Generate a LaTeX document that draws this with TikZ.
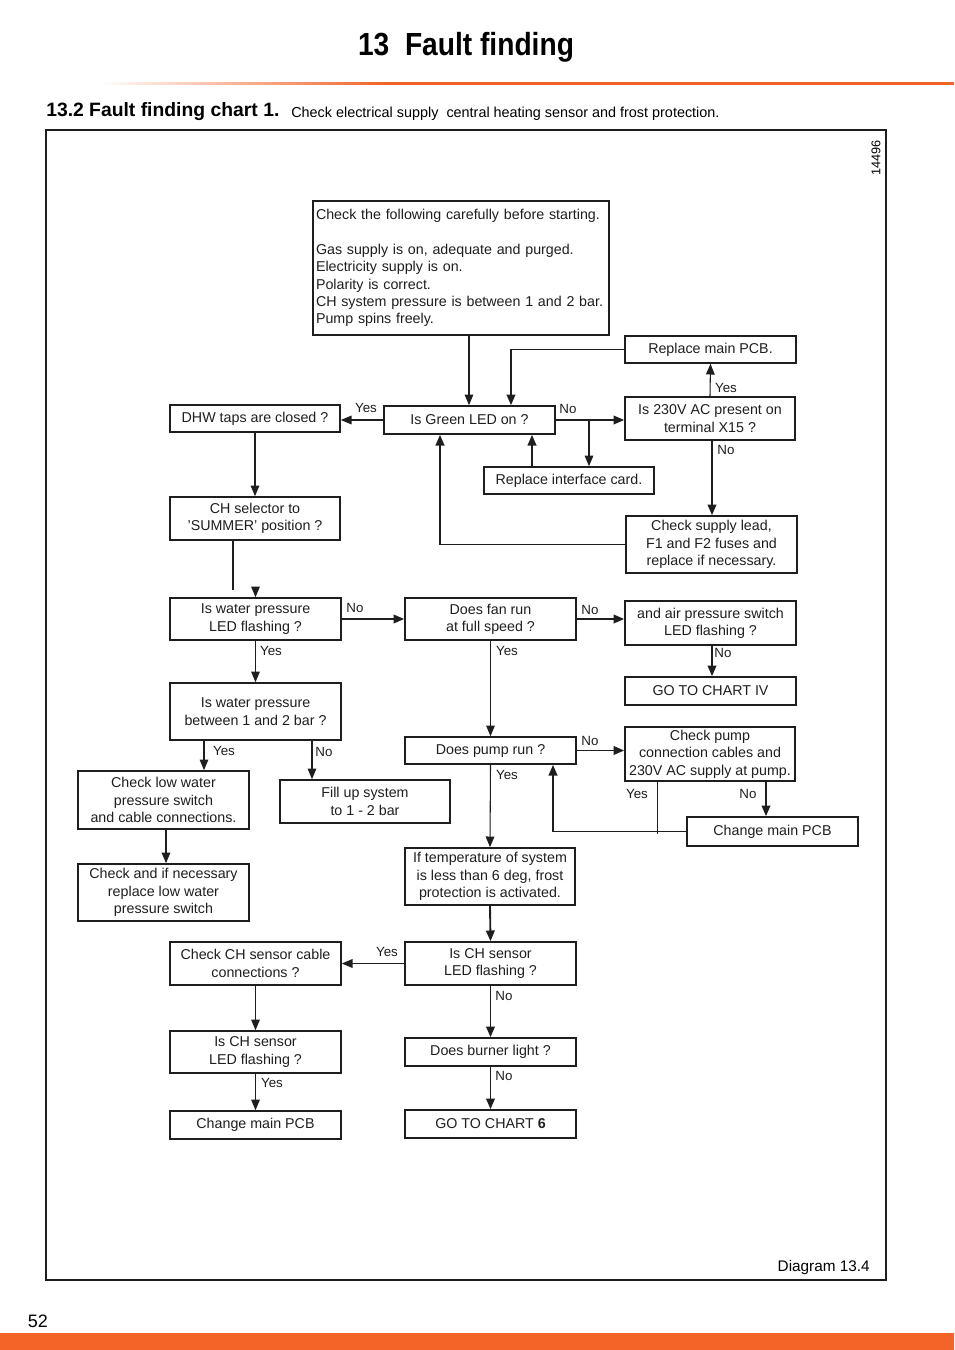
\documentclass[tikz,border=0pt]{standalone}
\usepackage{fontspec}
\setmainfont{Liberation Sans}
\usepackage{tikz}
\usetikzlibrary{arrows.meta,calc}
\definecolor{pageorange}{RGB}{242,100,40}
\definecolor{inkgray}{RGB}{30,30,30}
\tikzset{
  box/.style={draw=inkgray, line width=1.25pt, rectangle, inner sep=1.5pt, align=center,
              minimum width=171*0.75pt, minimum height=#1*0.75pt,
              font=\fontsize{10.7}{13}\selectfont, text=inkgray},
  arr/.style={-{Triangle[length=8pt,width=6.5pt]}, line width=0.8pt, inkgray},
  arrb/.style={-{Triangle[length=8pt,width=6.5pt]}, line width=1.4pt, inkgray},
  lbl/.style={font=\fontsize{10}{12}\selectfont, text=inkgray, inner sep=0pt},
}

\begin{document}
\begin{tikzpicture}[x=0.75pt,y=-0.75pt]
  \useasboundingbox (0,0) rectangle (954,1350);
  % Page header
  \node[inner sep=0pt] (title) at (466,47) {\scalebox{0.88}[1]{\fontsize{24}{28}\selectfont\bfseries 13\ \ Fault finding}};
  \foreach \i in {0,...,39}{
    \pgfmathsetmacro{\p}{min(100,\i*2.8)}
    \fill[pageorange!\p!white] (95+\i*8,81.5) rectangle (104+\i*8,84.5);
  }
  \fill[pageorange] (415,81.5) rectangle (954,84.5);
  \node[anchor=west, inner sep=0pt] (chartttl) at (46,112) {\fontsize{14.5}{17}\selectfont\bfseries 13.2 Fault finding chart 1.};
  \node[anchor=west, inner sep=0pt] (chartsub) at (291,113.5) {\fontsize{10.8}{13}\selectfont Check electrical supply\ \ central heating sensor and frost protection.};
  \draw[line width=0.9pt, inkgray] (46,130) rectangle (886,1280);
  \node[rotate=90, inner sep=0pt] (refno) at (876,158) {\fontsize{9.5}{11}\selectfont 14496};
  \node[anchor=east, inner sep=0pt] (diagno) at (870,1268) {\fontsize{11.5}{14}\selectfont Diagram 13.4};
  \node[inner sep=0pt] (pageno) at (38,1321) {\fontsize{13.5}{16}\selectfont 52};
  \fill[pageorange] (0,1333) rectangle (954,1350);

  % Boxes
  \node[box=134, minimum width=296*0.75pt, inner xsep=2.25pt, align=left, text width=290*0.75pt] (start) at (461,268)
    {Check the following carefully before starting.\\[13pt]
     Gas supply is on, adequate and purged.\\
     Electricity supply is on.\\
     Polarity is correct.\\
     CH system pressure is between 1 and 2 bar.\\
     Pump spins freely.};
  \node[box=27]  (replmain) at (710.5,349.5) {Replace main PCB.};
  \node[box=27, minimum width=170*0.75pt] (dhw) at (255,418.5) {DHW taps are closed ?};
  \node[box=28]  (green) at (469.5,420) {Is Green LED on ?};
  \node[box=43, minimum width=170*0.75pt] (v230) at (710,418.5) {Is 230V AC present on\\terminal X15 ?};
  \node[box=27, minimum width=170*0.75pt] (iface) at (569,480.5) {Replace interface card.};
  \node[box=43, minimum width=170*0.75pt] (selector) at (255,518.5) {CH selector to\\'SUMMER' position ?};
  \node[box=57]  (supply) at (711.5,544.5) {Check supply lead,\\F1 and F2 fuses and\\replace if necessary.};
  \node[box=42]  (wpled) at (255.5,619) {Is water pressure\\LED flashing ?};
  \node[box=42]  (fan) at (490.5,619) {Does fan run\\at full speed ?};
  \node[box=44]  (airps) at (710.5,623) {and air pressure switch\\LED flashing ?};
  \node[box=28]  (chart4) at (710.5,691) {GO TO CHART IV};
  \node[box=57]  (wpbar) at (255.5,711.5) {Is water pressure\\between 1 and 2 bar ?};
  \node[box=27]  (pump) at (490.5,750.5) {Does pump run ?};
  \node[box=54, minimum width=170*0.75pt] (pumpck) at (710,754) {Check pump\\connection cables and\\230V AC supply at pump.};
  \node[box=58]  (lowsw) at (163.5,800) {Check low water\\pressure switch\\and cable connections.};
  \node[box=43, minimum width=170*0.75pt] (fillup) at (365,801.5) {Fill up system\\to 1 - 2 bar};
  \node[box=29]  (pcbr) at (772.5,831.5) {Change main PCB};
  \node[box=57, minimum width=170*0.75pt] (temp) at (490,876.5) {If temperature of system\\is less than 6 deg, frost\\protection is activated.};
  \node[box=57]  (replsw) at (163.5,892.5) {Check and if necessary\\replace low water\\pressure switch};
  \node[box=43]  (cable) at (255.5,963.5) {Check CH sensor cable\\connections ?};
  \node[box=43]  (sensr) at (490.5,963.5) {Is CH sensor\\LED flashing ?};
  \node[box=42]  (sensl) at (255.5,1052) {Is CH sensor\\LED flashing ?};
  \node[box=28]  (burner) at (490.5,1052) {Does burner light ?};
  \node[box=28]  (pcbl) at (255.5,1125) {Change main PCB};
  \node[box=28]  (chart6) at (490.5,1124) {GO TO CHART \textbf{6}};

  % Connectors, top part
  \draw[arr]  (start.south -| 469,0) -- (green.north -| 469,0);
  \draw[arrb] (replmain.west) -| (green.north -| 511,0);
  \draw[arr]  (green.west) -- (green.west -| dhw.east);
  \draw[arrb] (green.east) -- (green.east -| v230.west);
  \draw[arr]  (green.east -| 589,0) -- (iface.north -| 589,0);
  \draw[arrb] (iface.north -| 532,0) -- (green.south -| 532,0);
  \draw[arr]  (v230.north) -- (replmain.south);
  \draw[arrb] (v230.south -| 712,0) -- (supply.north -| 712,0);
  \draw[arrb] (supply.west) -| (green.south -| 440,0);
  \draw[arr]  (dhw.south) -- (selector.north);
  \coordinate (selend) at (233,590);
  \draw[line width=1.4pt, inkgray] (selector.south -| selend) -- (selend);
  \draw[arr]  ([yshift=8pt]wpled.north) -- (wpled.north);
  % Connectors, middle part
  \draw[arrb] (wpled.east) -- (fan.west);
  \draw[arr]  (wpled.south) -- (wpbar.north);
  \draw[arrb] (fan.east) -- (fan.east -| airps.west);
  \draw[arr]  (fan.south) -- (pump.north);
  \draw[arrb] (airps.south -| 712,0) -- (chart4.north -| 712,0);
  \draw[arr]  (wpbar.south -| 204,0) -- (lowsw.north -| 204,0);
  \draw[arr]  (wpbar.south -| 312,0) -- (fillup.north -| 312,0);
  \draw[arrb] (pump.east) -- (pump.east -| pumpck.west);
  \draw[arrb] (pumpck.south -| 766,0) -- (pcbr.north -| 766,0);
  \coordinate (yesend) at (657,834);
  \draw[line width=0.5pt, inkgray] (pumpck.south -| yesend) -- (yesend);
  \draw[arrb] (pcbr.west) -| (pump.south -| 553,0);
  \draw[arr]  (pump.south) -- (temp.north);
  \draw[arr]  (lowsw.south -| 166,0) -- (replsw.north -| 166,0);
  % Connectors, bottom part
  \draw[arrb] (temp.south) -- (sensr.north);
  \draw[arr]  (sensr.west) -- (sensr.west -| cable.east);
  \draw[arrb] (sensr.south) -- (burner.north);
  \draw[arr]  (cable.south) -- (sensl.north);
  \draw[arr]  (sensl.south) -- (pcbl.north);
  \draw[arrb] (burner.south) -- (chart6.north);

  % Yes / No labels
  \foreach \x/\y/\t [count=\i] in {366/408/Yes, 568/409/No, 726/388/Yes, 726/450/No,
      355/608/No, 271/651/Yes, 590/610/No, 507/651/Yes, 723/653/No, 224/751/Yes,
      324/752/No, 590/741/No, 507/775/Yes, 637/794/Yes, 748/794/No, 387/952/Yes,
      504/996/No, 272/1083/Yes, 504/1076/No}{
    \node[lbl] (ans\i) at (\x,\y) {\t};
  }
\end{tikzpicture}
\end{document}
